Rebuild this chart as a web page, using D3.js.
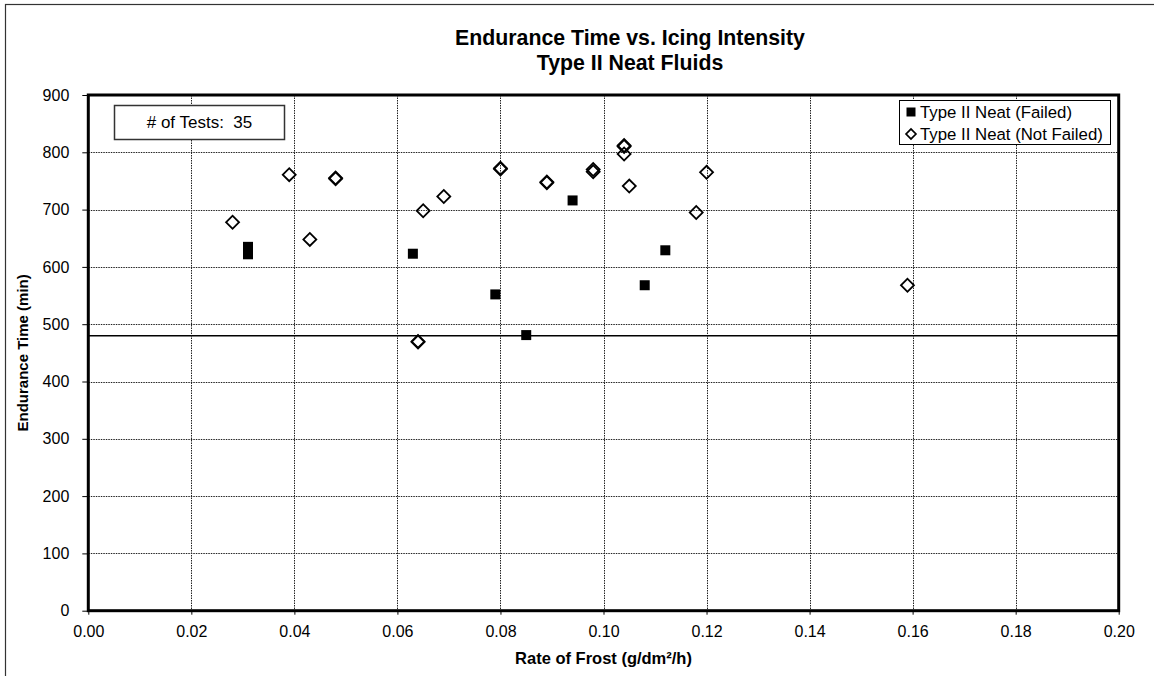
<!DOCTYPE html>
<html>
<head>
<meta charset="utf-8">
<script src="https://cdn.jsdelivr.net/npm/d3@7"></script>
<style>
  body { margin: 0; background: #fff; }
  svg { display: block; font-family: "Liberation Sans", Arial, sans-serif; }
</style>
</head>
<body>
<svg id="chart" width="1154" height="676"></svg>
<script>
// data
var failedRate = [0.031, 0.031, 0.063, 0.079, 0.085, 0.094, 0.108, 0.112];
var failedTime = [635, 622, 623, 552, 481, 716, 568, 629];

var okRate = [0.028, 0.039, 0.043, 0.048, 0.048, 0.064, 0.064, 0.065, 0.069, 0.080, 0.080,
              0.089, 0.089, 0.098, 0.098, 0.104, 0.104, 0.104, 0.105, 0.118, 0.120, 0.159];
var okTime = [678, 761, 648, 755, 754, 470, 469, 698, 723, 772, 771,
              748, 747, 770, 766, 812, 810, 797, 741, 695, 765, 568];

var xTicks = [0, 0.02, 0.04, 0.06, 0.08, 0.10, 0.12, 0.14, 0.16, 0.18, 0.20];
var yTicks = [0, 100, 200, 300, 400, 500, 600, 700, 800, 900];
var threshold = 480;
var testCount = 35;

var svg = d3.select("#chart");

// plot area edges
var plotL = 88.3, plotR = 1118.7, plotT = 95, plotB = 610.7;

var x = d3.scaleLinear().domain([0, 0.2]).range([plotL, plotR]);
var y = d3.scaleLinear().domain([0, 900]).range([plotB, plotT]);

// outer frame of the chart (right and bottom run off the picture)
svg.append("rect")
    .attr("x", 5.5).attr("y", 4.5)
    .attr("width", 1300).attr("height", 800)
    .attr("fill", "none")
    .attr("stroke", "#333")
    .attr("stroke-width", 1.2);

// title
var title = svg.append("text")
    .attr("text-anchor", "middle")
    .attr("font-weight", "bold")
    .attr("font-size", 21.3);
title.append("tspan").attr("x", 630).attr("y", 45).text("Endurance Time vs. Icing Intensity");
title.append("tspan").attr("x", 630).attr("y", 70).text("Type II Neat Fluids");

// grid
var grid = svg.append("g")
    .attr("stroke", "#222")
    .attr("stroke-width", 1)
    .attr("stroke-dasharray", "1.5,1");

grid.selectAll(".vg")
    .data(xTicks.slice(1, -1))
  .enter().append("line")
    .attr("x1", function(d) { return Math.round(x(d)) + 0.5; })
    .attr("x2", function(d) { return Math.round(x(d)) + 0.5; })
    .attr("y1", plotT).attr("y2", plotB);

grid.selectAll(".hg")
    .data(yTicks.slice(1, -1))
  .enter().append("line")
    .attr("y1", function(d) { return Math.round(y(d)) + 0.5; })
    .attr("y2", function(d) { return Math.round(y(d)) + 0.5; })
    .attr("x1", plotL).attr("x2", plotR);

// 480 min line
svg.append("line")
    .attr("x1", plotL).attr("x2", plotR)
    .attr("y1", y(threshold)).attr("y2", y(threshold))
    .attr("stroke", "#000")
    .attr("stroke-width", 1.5);

// axes
var xAxis = svg.append("g")
    .attr("transform", "translate(0," + plotB + ")")
    .call(d3.axisBottom(x).tickValues(xTicks).tickFormat(d3.format(".2f")).tickSize(4).tickPadding(11));

var yAxis = svg.append("g")
    .attr("transform", "translate(" + plotL + ",0)")
    .call(d3.axisLeft(y).tickValues(yTicks).tickSize(6).tickPadding(13));

[xAxis, yAxis].forEach(function(a) {
  a.select(".domain").remove();
  a.selectAll("text").attr("font-size", 16).attr("fill", "#000").attr("font-family", null);
  a.selectAll("line").attr("stroke", "#000");
});

// plot frame
svg.append("rect")
    .attr("x", plotL).attr("y", plotT)
    .attr("width", plotR - plotL).attr("height", plotB - plotT)
    .attr("fill", "none")
    .attr("stroke", "#000")
    .attr("stroke-width", 3);

// axis titles
svg.append("text")
    .attr("x", (plotL + plotR) / 2).attr("y", 664)
    .attr("text-anchor", "middle")
    .attr("font-weight", "bold")
    .attr("font-size", 16.5)
    .text("Rate of Frost (g/dm²/h)");

svg.append("text")
    .attr("transform", "translate(28," + ((plotT + plotB) / 2) + ") rotate(-90)")
    .attr("text-anchor", "middle")
    .attr("font-weight", "bold")
    .attr("font-size", 15)
    .text("Endurance Time (min)");

// markers
var diamond = d3.symbol().type(d3.symbolSquare).size(84);
var square = d3.symbol().type(d3.symbolSquare).size(100);

svg.append("g").selectAll("path")
    .data(d3.range(okRate.length))
  .enter().append("path")
    .attr("d", diamond)
    .attr("transform", function(i) {
      return "translate(" + x(okRate[i]) + "," + y(okTime[i]) + ") rotate(45)";
    })
    .attr("fill", "none")
    .attr("stroke", "#000")
    .attr("stroke-width", 1.8);

svg.append("g").selectAll("path")
    .data(d3.range(failedRate.length))
  .enter().append("path")
    .attr("d", square)
    .attr("transform", function(i) {
      return "translate(" + x(failedRate[i]) + "," + y(failedTime[i]) + ")";
    })
    .attr("fill", "#000");

// tests box
svg.append("rect")
    .attr("x", 114.5).attr("y", 105.5)
    .attr("width", 170).attr("height", 34)
    .attr("fill", "#fff")
    .attr("stroke", "#333")
    .attr("stroke-width", 1.5);

svg.append("text")
    .attr("x", 199.5).attr("y", 128)
    .attr("text-anchor", "middle")
    .attr("font-size", 17)
    .style("white-space", "pre")
    .text("# of Tests:  " + testCount);

// legend
var legend = svg.append("g");
legend.append("rect")
    .attr("x", 899.5).attr("y", 100.5)
    .attr("width", 211).attr("height", 44)
    .attr("fill", "#fff")
    .attr("stroke", "#000")
    .attr("stroke-width", 1);

legend.append("path")
    .attr("d", d3.symbol().type(d3.symbolSquare).size(81))
    .attr("transform", "translate(911,112)")
    .attr("fill", "#000");

legend.append("path")
    .attr("d", d3.symbol().type(d3.symbolSquare).size(50))
    .attr("transform", "translate(911,134) rotate(45)")
    .attr("fill", "none")
    .attr("stroke", "#000")
    .attr("stroke-width", 1.6);

legend.append("text")
    .attr("x", 920).attr("y", 118)
    .attr("font-size", 16.8)
    .text("Type II Neat (Failed)");

legend.append("text")
    .attr("x", 920).attr("y", 140)
    .attr("font-size", 16.8)
    .text("Type II Neat (Not Failed)");
</script>
</body>
</html>
